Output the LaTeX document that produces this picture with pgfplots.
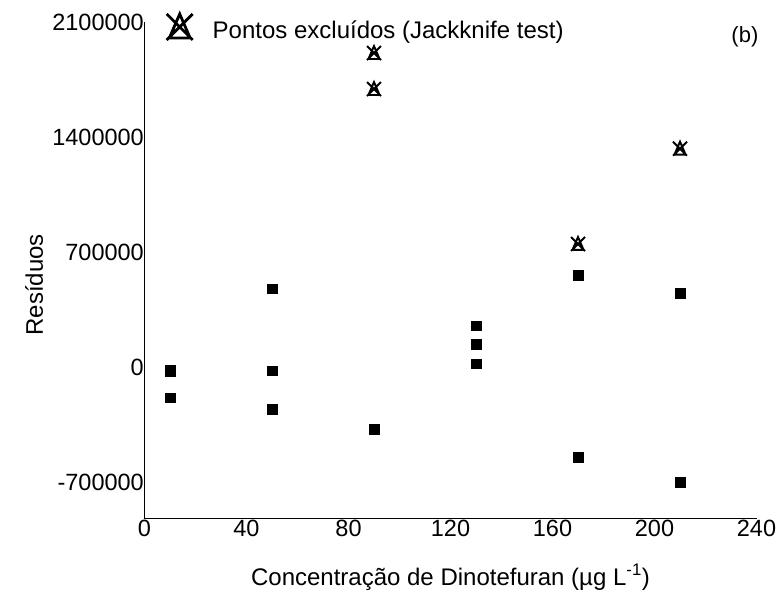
\documentclass[border=0pt]{standalone}
\usepackage{pgfplots}
\pgfplotsset{compat=1.18}
\usepackage{fontspec}
\setmainfont{Liberation Sans}
\pgfdeclareplotmark{tricross}{%
 \pgfpathmoveto{\pgfqpoint{0pt}{\pgfplotmarksize}}%
 \pgfpathlineto{\pgfqpoint{-.8\pgfplotmarksize}{-.85\pgfplotmarksize}}%
 \pgfpathlineto{\pgfqpoint{.8\pgfplotmarksize}{-.85\pgfplotmarksize}}%
 \pgfpathclose
 \pgfpathmoveto{\pgfqpoint{-\pgfplotmarksize}{\pgfplotmarksize}}%
 \pgfpathlineto{\pgfqpoint{\pgfplotmarksize}{-\pgfplotmarksize}}%
 \pgfpathmoveto{\pgfqpoint{-\pgfplotmarksize}{-\pgfplotmarksize}}%
 \pgfpathlineto{\pgfqpoint{\pgfplotmarksize}{\pgfplotmarksize}}%
 \pgfusepathqstroke
}
\begin{document}
\begin{tikzpicture}
\begin{axis}[
  scale only axis,
  width=612pt, height=496pt,
  xmin=0, xmax=240, ymin=-919000, ymax=2100000,
  axis x line=bottom, axis y line=left,
  axis line style={-, line width=0.9pt},
  xtick={0,40,...,240},
  ytick={-700000,0,700000,1400000,2100000},
  major tick length=0pt,
  scaled y ticks=false,
  /pgf/number format/.cd, fixed, 1000 sep={}, assume math mode=true,
  /pgfplots/.cd,
  tick label style={font=\fontsize{23.5}{28}\selectfont},
  xticklabel style={inner sep=0pt, yshift=-2pt},
  yticklabel style={inner sep=0pt, xshift=-0.5pt},
  xlabel={Concentração de Dinotefuran (µg L\textsuperscript{-1})},
  ylabel={Resíduos},
  label style={font=\fontsize{24}{28}\selectfont},
  xlabel style={at={(axis description cs:0.5,-0.135)}, anchor=base},
  ylabel style={at={(axis description cs:-0.166,0.47)}, anchor=base},
  legend style={at={(axis description cs:0.036,0.99)}, anchor=west, draw=none, fill=none,
    inner sep=0pt, font=\fontsize{24}{28}\selectfont, legend cell align=left,
    nodes={inner sep=0pt}},
  clip=false,
]
\addplot[only marks, mark=tricross, mark size=7pt, line width=1.9pt, black,
  legend image code/.code={\draw[mark=tricross, mark size=13pt, line width=2.8pt, black] plot coordinates {(0cm,0.12cm)};}]
  coordinates {(90,1911000) (90,1692000) (170,749000) (210,1329000)};
\addlegendentry{\hspace{20pt}Pontos excluídos (Jackknife test)}
\addplot[only marks, mark=square*, mark size=4.8pt, black]
  coordinates {
   (10,-15000) (10,-27000) (10,-187000)
   (50,477000) (50,-22000) (50,-256000)
   (90,-379000)
   (130,251000) (130,139000) (130,20000)
   (170,560000) (170,-550000)
   (210,449000) (210,-702000)
  };
\node[anchor=center, font=\fontsize{22}{26}\selectfont] at (rel axis cs:0.981,0.97) {(b)};
\coordinate (BL) at (rel axis cs:-0.2361,-0.1472);
\coordinate (TR) at (rel axis cs:1.0400,1.0444);
\end{axis}
\pgfresetboundingbox
\useasboundingbox (BL) rectangle (TR);
\end{tikzpicture}
\end{document}
